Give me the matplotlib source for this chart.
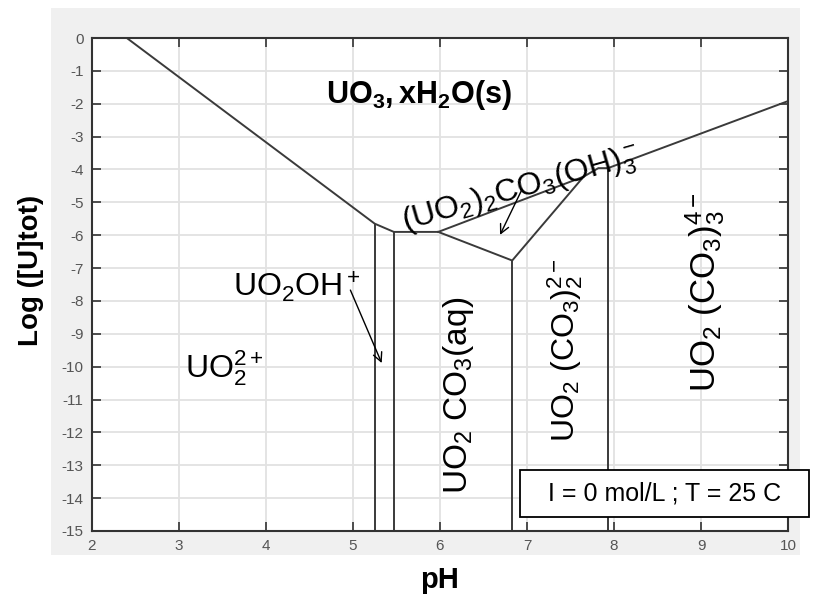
import matplotlib

matplotlib.use("Agg")
import matplotlib.pyplot as plt
from matplotlib.patches import Rectangle

plt.rcParams["font.family"] = ["Liberation Sans", "DejaVu Sans"]
plt.rcParams["mathtext.fontset"] = "custom"
plt.rcParams["mathtext.rm"] = "Liberation Sans"
plt.rcParams["mathtext.it"] = "Liberation Sans:italic"
plt.rcParams["mathtext.bf"] = "Liberation Sans:bold"
plt.rcParams["axes.unicode_minus"] = False

# solubility boundary of UO3,xH2O(s)
solid_ph = [2.4, 5.25, 5.47, 5.98]
solid_logu = [0.0, -5.65, -5.9, -5.9]
upper_ph = [5.98, 7.65, 7.82, 7.93, 10.0]
upper_logu = [-5.9, -4.22, -3.96, -3.96, -1.92]
# boundary around the (UO2)2CO3(OH)3- field
lower_ph = [5.98, 6.83, 7.65]
lower_logu = [-5.9, -6.77, -4.22]
# aqueous species boundaries (vertical)
vertical_ph = [5.25, 5.47, 6.83, 7.93]
vertical_top = [-5.65, -5.9, -6.77, -3.96]

x_ticks = list(range(2, 11))
y_ticks = list(range(-15, 1))

W, H = 814, 599
fig = plt.figure(figsize=(W / 100, H / 100), dpi=100)
fig.patch.set_facecolor("white")
fig.add_artist(Rectangle((51 / W, 1 - 555 / H), (800 - 51) / W, (555 - 8) / H,
                         transform=fig.transFigure, facecolor="#f0f0f0",
                         edgecolor="none", zorder=-1))

ax = fig.add_axes([92 / W, 1 - 531 / H, (788 - 92) / W, (531 - 38) / H])
ax.set_facecolor("white")
ax.set_xlim(2, 10)
ax.set_ylim(-15, 0)
ax.set_xticks(x_ticks)
ax.set_yticks(y_ticks)
ax.grid(color="#e2e2e2", lw=1.3)
ax.set_axisbelow(True)
ax.tick_params(direction="in", top=True, right=True, length=6.5, width=1.2,
               color="#333333", labelcolor="#555555", labelsize=11, pad=6)
for sp in ax.spines.values():
    sp.set_color("#333333")
    sp.set_linewidth(1.5)

line_kw = dict(color="#3a3a3a", lw=1.4)
ax.plot(solid_ph, solid_logu, **line_kw)
ax.plot(upper_ph, upper_logu, **line_kw)
ax.plot(lower_ph, lower_logu, **line_kw)
ax.vlines(vertical_ph, -15, vertical_top, **line_kw)

ax.text(5.76, -1.98, r"$\mathbf{UO_3,xH_2O(s)}$", fontsize=22,
        ha="center", va="baseline")
sp_fs = 23
ax.text(3.62, -7.88, r"UO$_2$OH$^+$", fontsize=sp_fs, ha="left", va="baseline")
ax.text(3.07, -10.34, r"UO$_2^{2+}$", fontsize=sp_fs, ha="left", va="baseline")
ax.text(6.93, -4.62, r"(UO$_2$)$_2$CO$_3$(OH)$_3^-$", fontsize=sp_fs,
        rotation=16, rotation_mode="anchor", ha="center", va="center")
ax.text(6.21, -10.86, r"UO$_2$ CO$_3$(aq)", fontsize=24, rotation=90,
        ha="center", va="center")
ax.text(7.44, -9.49, r"UO$_2$ (CO$_3$)$_2^{2-}$", fontsize=sp_fs, rotation=90,
        ha="center", va="center")
ax.text(9.05, -7.73, r"UO$_2$ (CO$_3$)$_3^{4-}$", fontsize=25, rotation=90,
        ha="center", va="center")

arrow_kw = dict(arrowstyle="->", color="black", lw=1.0, mutation_scale=16,
                shrinkA=0, shrinkB=0)
ax.annotate("", xy=(5.33, -9.89), xytext=(4.97, -7.67), arrowprops=arrow_kw)
ax.annotate("", xy=(6.69, -5.99), xytext=(6.94, -4.62), arrowprops=arrow_kw)

# conditions box (sticks out past the right spine, as in the original)
fig.add_artist(Rectangle((520 / W, 1 - 517 / H), 289 / W, 47 / H,
                         transform=fig.transFigure, facecolor="white",
                         edgecolor="black", lw=1.3, zorder=5))
fig.text(664.5 / W, 1 - 493.5 / H, "I = 0 mol/L ; T = 25 C", fontsize=18,
         ha="center", va="center", zorder=6)

fig.text(31 / W, 1 - 270 / H, "Log ([U]tot)", rotation=90, fontsize=20,
         fontweight="bold", ha="center", va="center")
fig.text(440 / W, 1 - 580 / H, "pH", fontsize=21, fontweight="bold",
         ha="center", va="center")

fig.savefig("out.png", dpi=100)
